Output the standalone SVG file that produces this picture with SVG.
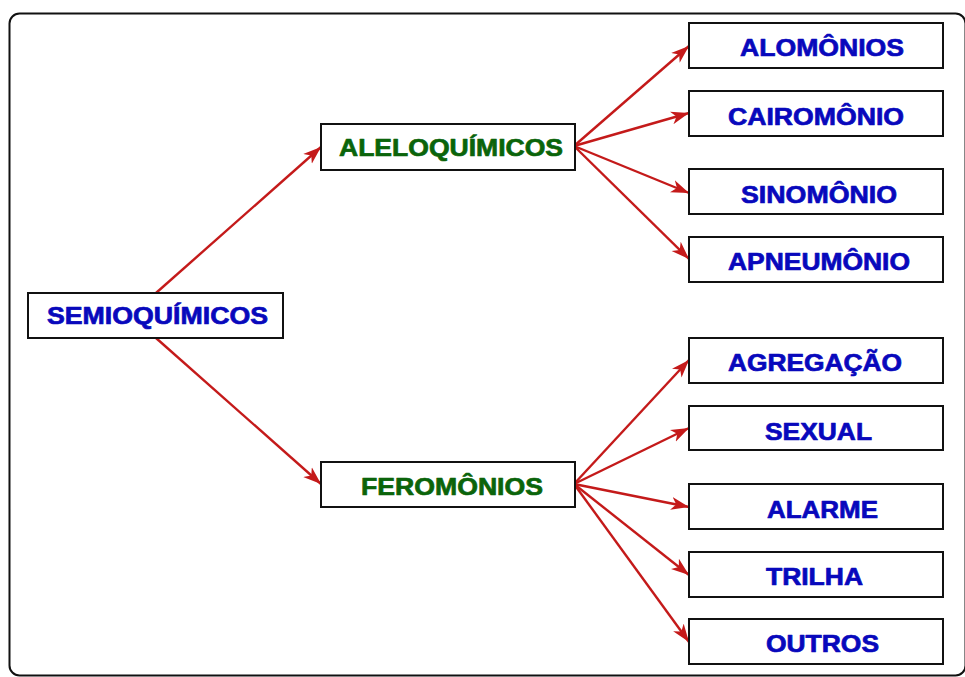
<svg xmlns="http://www.w3.org/2000/svg" width="965" height="677" viewBox="0 0 965 677">
<style>
.box{fill:#fff;stroke:#111;stroke-width:2}
.t{font-family:"Liberation Sans",Arial,sans-serif;font-weight:bold;font-size:23.5px;text-anchor:start;stroke-width:0.7;stroke-linejoin:round}
.b{fill:#0808bc;stroke:#0808bc}
.g{fill:#0a640a;stroke:#0a640a}
.c line{stroke:#c41a1a;stroke-width:2.4;marker-end:url(#ah)}
</style>
<defs>
<marker id="ah" markerUnits="userSpaceOnUse" markerWidth="20" markerHeight="14" refX="18" refY="7" orient="auto">
<path d="M0,0.5 L18,7 L0,13.5 L5,7 z" fill="#c41a1a"/>
</marker>
</defs>
<rect x="9.5" y="13.5" width="956" height="662" rx="10" fill="#fff" stroke="#111" stroke-width="2"/>
<g class="c">
<line x1="156" y1="293" x2="321" y2="147"/>
<line x1="156" y1="338" x2="321" y2="484"/>
<line x1="574" y1="146" x2="689" y2="46"/>
<line x1="574" y1="146" x2="689" y2="113"/>
<line x1="574" y1="146" x2="689" y2="193"/>
<line x1="574" y1="146" x2="689" y2="259"/>
<line x1="574" y1="484" x2="689" y2="360"/>
<line x1="574" y1="484" x2="689" y2="428"/>
<line x1="574" y1="484" x2="689" y2="507"/>
<line x1="574" y1="484" x2="689" y2="575"/>
<line x1="574" y1="484" x2="689" y2="642"/>
</g>
<g id="semioquimicos"><rect class="box" x="28" y="293" width="255" height="45"/><text class="t b" x="47" y="324" textLength="221" lengthAdjust="spacingAndGlyphs">SEMIOQUÍMICOS</text></g>
<g id="aleloquimicos"><rect class="box" x="321" y="124" width="254" height="46"/><text class="t g" x="339" y="156" textLength="224" lengthAdjust="spacingAndGlyphs">ALELOQUÍMICOS</text></g>
<g id="feromonios"><rect class="box" x="321" y="462" width="254" height="45"/><text class="t g" x="361" y="495" textLength="182" lengthAdjust="spacingAndGlyphs">FEROMÔNIOS</text></g>
<g id="alomonios"><rect class="box" x="689" y="23" width="254" height="45"/><text class="t b" x="740" y="56" textLength="164" lengthAdjust="spacingAndGlyphs">ALOMÔNIOS</text></g>
<g id="cairomonio"><rect class="box" x="689" y="91" width="254" height="45"/><text class="t b" x="728" y="125" textLength="176" lengthAdjust="spacingAndGlyphs">CAIROMÔNIO</text></g>
<g id="sinomonio"><rect class="box" x="689" y="169" width="254" height="45"/><text class="t b" x="741" y="203" textLength="156" lengthAdjust="spacingAndGlyphs">SINOMÔNIO</text></g>
<g id="apneumonio"><rect class="box" x="689" y="237" width="254" height="45"/><text class="t b" x="728" y="270" textLength="182" lengthAdjust="spacingAndGlyphs">APNEUMÔNIO</text></g>
<g id="agregacao"><rect class="box" x="689" y="338" width="254" height="45"/><text class="t b" x="728" y="371" textLength="174" lengthAdjust="spacingAndGlyphs">AGREGAÇÃO</text></g>
<g id="sexual"><rect class="box" x="689" y="406" width="254" height="44"/><text class="t b" x="765" y="440" textLength="107" lengthAdjust="spacingAndGlyphs">SEXUAL</text></g>
<g id="alarme"><rect class="box" x="689" y="484" width="254" height="45"/><text class="t b" x="767" y="518" textLength="111" lengthAdjust="spacingAndGlyphs">ALARME</text></g>
<g id="trilha"><rect class="box" x="689" y="552" width="254" height="45"/><text class="t b" x="766" y="585" textLength="97" lengthAdjust="spacingAndGlyphs">TRILHA</text></g>
<g id="outros"><rect class="box" x="689" y="619" width="254" height="45"/><text class="t b" x="766" y="652" textLength="113" lengthAdjust="spacingAndGlyphs">OUTROS</text></g>
</svg>
